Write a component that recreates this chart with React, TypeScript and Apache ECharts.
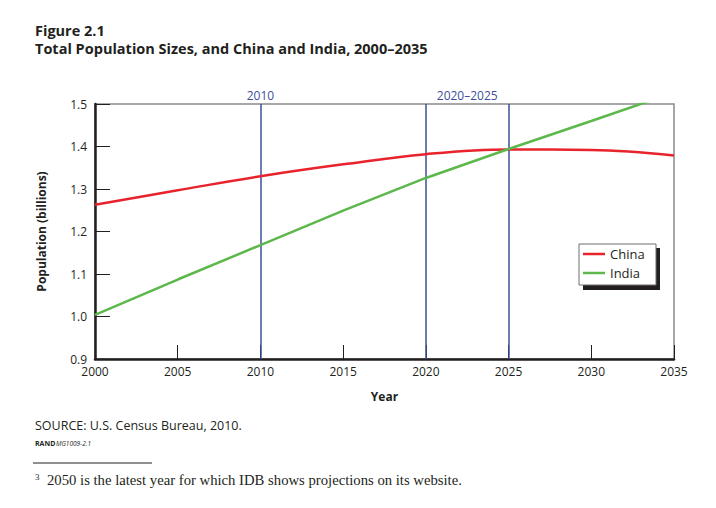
import React, { useEffect, useRef } from "react";
import * as echarts from "echarts";

const years = [2000, 2005, 2010, 2015, 2020, 2025, 2030, 2035];
const china = [1.263, 1.297, 1.330, 1.358, 1.382, 1.393, 1.392, 1.379];
const india = [1.004, 1.087, 1.168, 1.249, 1.326, 1.394, 1.460, 1.527];
const markerYear = 2010;
const rangeYears = [2020, 2025];
const titleLine1 = "Figure 2.1";
const titleLine2 = "Total Population Sizes, and China and India, 2000–2035";

const SANS = "'Open Sans', 'Noto Sans', sans-serif";
const BLUE = "#3d4f9c";

export default function App() {
  const ref = useRef<HTMLDivElement>(null);
  useEffect(() => {
    const chart = echarts.init(ref.current!, null, { renderer: "svg" });
    chart.setOption({
      animation: false,
      backgroundColor: "#ffffff",
      textStyle: { fontFamily: SANS },
      grid: {
        left: 95, right: 42, top: 104, bottom: 149,
        show: true, borderColor: "#8a8a8a", borderWidth: 1.5,
      },
      xAxis: {
        type: "value", min: 2000, max: 2035, interval: 5,
        name: "Year", nameLocation: "middle", nameGap: 31,
        nameTextStyle: { fontFamily: SANS, fontWeight: "bold", fontSize: 12, color: "#231f20" },
        axisLine: { show: true, lineStyle: { color: "#231f20", width: 2.5 } },
        axisTick: { show: true, inside: true, length: 14, lineStyle: { color: "#231f20", width: 1 } },
        axisLabel: { formatter: (v: number) => String(v), color: "#231f20", fontSize: 12, margin: 6, fontFamily: SANS },
        splitLine: { show: false },
      },
      yAxis: {
        type: "value", min: 0.9, max: 1.5, interval: 0.1,
        name: "Population (billions)", nameLocation: "middle", nameGap: 48,
        nameTextStyle: { fontFamily: SANS, fontWeight: "bold", fontSize: 12, color: "#231f20" },
        axisLine: { show: true, lineStyle: { color: "#231f20", width: 2.5 } },
        axisTick: { show: true, inside: true, length: 15, lineStyle: { color: "#231f20", width: 1 } },
        axisLabel: { formatter: (v: number) => v.toFixed(1), color: "#231f20", fontSize: 12, margin: 8, fontFamily: SANS },
        splitLine: { show: false },
      },
      legend: {
        orient: "vertical", left: 583, top: 247, itemGap: 5, padding: 0,
        icon: "rect", itemWidth: 22, itemHeight: 2.5,
        textStyle: { fontFamily: SANS, fontSize: 13, lineHeight: 14, color: "#231f20" },
        data: ["China", "India"],
        z: 10,
      },
      graphic: [
        { type: "rect", shape: { x: 583, y: 248, width: 77, height: 42 }, style: { fill: "#231f20" }, z: 1 },
        { type: "rect", shape: { x: 579, y: 244, width: 77, height: 41 }, style: { fill: "#ffffff", stroke: "#6e6e6e", lineWidth: 1 }, z: 2 },
        { type: "text", left: 35, top: 22, style: { text: `${titleLine1}\n${titleLine2}`, fontFamily: SANS, fontWeight: "bold", fontSize: 14.5, lineHeight: 17.5, fill: "#231f20" } },
        { type: "text", left: 35, top: 419, style: { text: "SOURCE: U.S. Census Bureau, 2010.", font: `12.5px ${SANS}`, fill: "#231f20" } },
        { type: "text", left: 35, top: 440, style: { text: "RAND", font: `bold 7px ${SANS}`, fill: "#231f20" } },
        { type: "text", left: 56, top: 440, style: { text: "MG1009-2.1", font: `italic 6.5px ${SANS}`, fill: "#231f20" } },
        { type: "line", shape: { x1: 33, y1: 463, x2: 152, y2: 463 }, style: { stroke: "#231f20", lineWidth: 1 } },
        { type: "text", left: 35, top: 472, style: { text: "3", font: "9px 'Liberation Serif', serif", fill: "#231f20" } },
        { type: "text", left: 47, top: 472, style: { text: "2050 is the latest year for which IDB shows projections on its website.", font: "14.7px 'Liberation Serif', serif", fill: "#231f20" } },
      ],
      series: [
        {
          name: "China", type: "line", smooth: 0.4, symbol: "none",
          data: years.map((y, i) => [y, china[i]]),
          lineStyle: { color: "#e8232c", width: 2.5 }, itemStyle: { color: "#e8232c" },
          z: 5,
          markLine: {
            silent: true, symbol: "none",
            lineStyle: { color: BLUE, width: 1.5, type: "solid" },
            label: { show: false },
            data: [
              { xAxis: markerYear, label: { show: true, position: "end", formatter: String(markerYear), color: BLUE, fontSize: 12, fontFamily: SANS, distance: 3 } },
              { xAxis: rangeYears[0] },
              { xAxis: rangeYears[1] },
            ],
          },
          markArea: {
            silent: true,
            itemStyle: { color: "rgba(0,0,0,0)" },
            label: { show: true, position: "top", color: BLUE, fontSize: 12, fontFamily: SANS, distance: 3 },
            data: [[{ xAxis: rangeYears[0], name: `${rangeYears[0]}–${rangeYears[1]}` }, { xAxis: rangeYears[1] }]],
          },
        },
        {
          name: "India", type: "line", smooth: false, symbol: "none",
          data: years.map((y, i) => [y, india[i]]),
          lineStyle: { color: "#5cb84a", width: 2.5 }, itemStyle: { color: "#5cb84a" },
          z: 5,
        },
      ],
    });
    return () => chart.dispose();
  }, []);
  return <div ref={ref} style={{ position: "fixed", left: 0, top: 0, width: 716, height: 508 }} />;
}
